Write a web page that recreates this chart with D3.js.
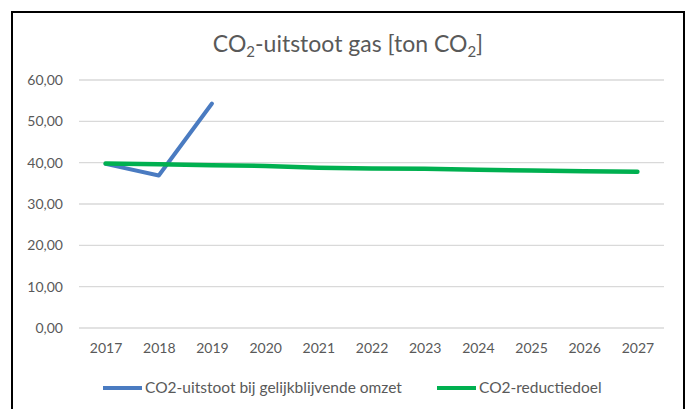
<!DOCTYPE html>
<html>
<head>
<meta charset="utf-8">
<script src="https://cdn.jsdelivr.net/npm/d3@7"></script>
<style>
  body { margin: 0; background: #fff; }
  svg { display: block; font-family: Lato, "Open Sans", sans-serif; }
</style>
</head>
<body>
<div id="chart"></div>
<script>
// data
const years = ["2017", "2018", "2019", "2020", "2021", "2022", "2023", "2024", "2025", "2026", "2027"];
const uitstoot = [39.7, 36.9, 54.3];   // only first three years known
const reductiedoel = [39.8, 39.6, 39.4, 39.2, 38.8, 38.6, 38.5, 38.3, 38.1, 37.9, 37.8];
const yTicks = [0, 10, 20, 30, 40, 50, 60];
const seriesNames = ["CO2-uitstoot bij gelijkblijvende omzet", "CO2-reductiedoel"];
const colors = ["#4A7BC1", "#00B050"];

const W = 687, H = 409;
const margin = {top: 80, right: 23, bottom: 81, left: 79},
    width = W - margin.left - margin.right,
    height = H - margin.top - margin.bottom;

const svg = d3.select("#chart")
    .append("svg")
    .attr("width", W)
    .attr("height", H);

// chart frame
svg.append("rect")
    .attr("x", 12).attr("y", 12)
    .attr("width", 672).attr("height", 410)
    .attr("fill", "none")
    .attr("stroke", "#000")
    .attr("stroke-width", 2);

const g = svg.append("g")
    .attr("transform", `translate(${margin.left},${margin.top})`);

const x = d3.scalePoint()
    .domain(years)
    .range([0, width])
    .padding(0.5);

const y = d3.scaleLinear()
    .domain([0, 60])
    .range([height, 0]);

// gridlines
g.append("g")
    .selectAll("line")
    .data(yTicks)
    .join("line")
    .attr("x1", 0)
    .attr("x2", width)
    .attr("y1", d => y(d))
    .attr("y2", d => y(d))
    .attr("stroke", "#d9d9d9")
    .attr("stroke-width", 1.3);

// y axis labels
const yAxis = g.append("g")
    .call(d3.axisLeft(y).tickValues(yTicks).tickSize(0).tickPadding(16)
        .tickFormat(d => d3.format(".2f")(d).replace(".", ",")));
yAxis.select(".domain").remove();
yAxis.selectAll("text")
    .style("font-family", "Lato, sans-serif")
    .style("font-size", "14px")
    .attr("fill", "#595959");

// x axis labels
const xAxis = g.append("g")
    .attr("transform", `translate(0,${height})`)
    .call(d3.axisBottom(x).tickSize(0).tickPadding(15));
xAxis.select(".domain").remove();
xAxis.selectAll("text")
    .style("font-family", "Lato, sans-serif")
    .style("font-size", "14px")
    .attr("fill", "#595959");

const line = d3.line()
    .x((d, i) => x(years[i]))
    .y(d => y(d));

g.append("path")
    .datum(uitstoot)
    .attr("d", line)
    .attr("fill", "none")
    .attr("stroke", colors[0])
    .attr("stroke-width", 4)
    .attr("stroke-linejoin", "round")
    .attr("stroke-linecap", "round");

g.append("path")
    .datum(reductiedoel)
    .attr("d", line)
    .attr("fill", "none")
    .attr("stroke", colors[1])
    .attr("stroke-width", 4.5)
    .attr("stroke-linejoin", "round")
    .attr("stroke-linecap", "round");

// title with subscripts
const title = svg.append("text")
    .attr("x", 348)
    .attr("y", 52)
    .attr("text-anchor", "middle")
    .attr("fill", "#595959")
    .style("font-size", "23px");
title.append("tspan").text("CO");
title.append("tspan").text("2").attr("dy", 5).style("font-size", "15px");
title.append("tspan").text("-uitstoot gas [ton CO").attr("dy", -5);
title.append("tspan").text("2").attr("dy", 5).style("font-size", "15px");
title.append("tspan").text("]").attr("dy", -5);

// legend
const legendX = [103, 437];
const legend = svg.append("g")
    .selectAll("g")
    .data(seriesNames)
    .join("g")
    .attr("transform", (d, i) => `translate(${legendX[i]},388)`);
legend.append("line")
    .attr("x1", 0).attr("x2", 39)
    .attr("stroke", (d, i) => colors[i])
    .attr("stroke-width", 4);
legend.append("text")
    .attr("x", 42)
    .attr("y", 5)
    .attr("fill", "#595959")
    .style("font-size", "15.5px")
    .text(d => d);
</script>
</body>
</html>
